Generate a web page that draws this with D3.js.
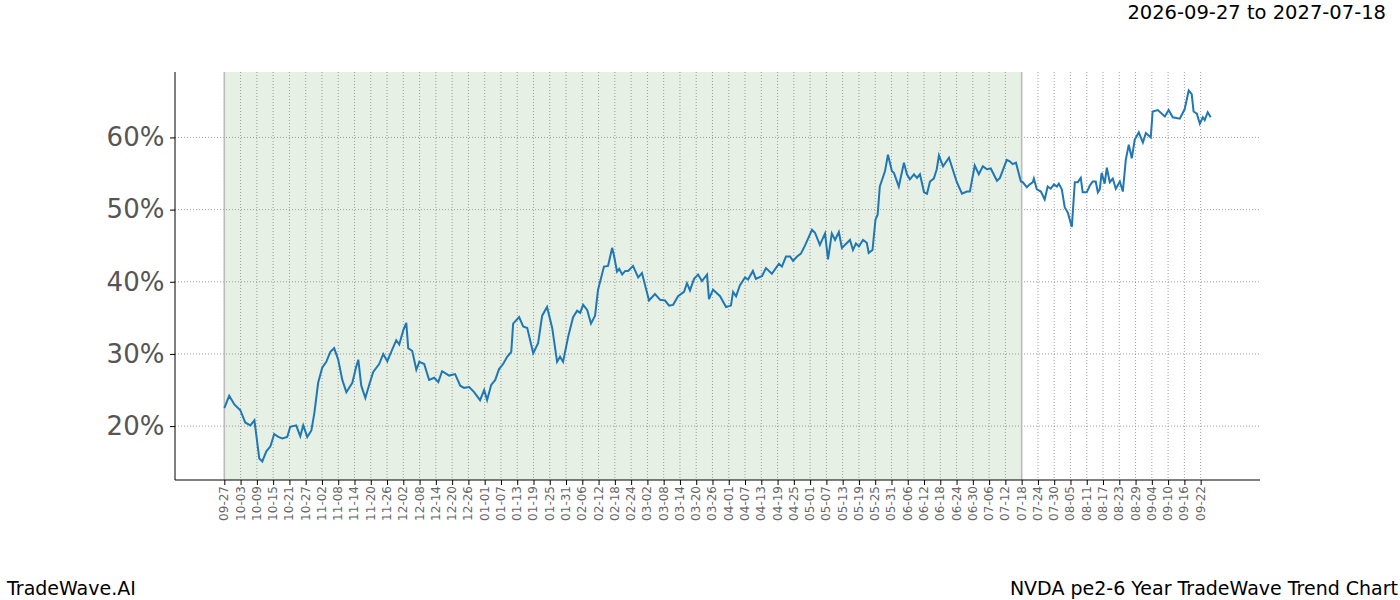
<!DOCTYPE html>
<html><head><meta charset="utf-8">
<script src="https://cdn.jsdelivr.net/npm/d3@7"></script>
<style>body{margin:0;background:#fff;font-family:"DejaVu Sans",sans-serif;}</style>
</head><body><svg id="c" width="1400" height="600"></svg>
<script>
const startDate = "2026-09-27";
const shadeEnd = "2027-07-18";
const title = "2026-09-27 to 2027-07-18";
const dayOffsets = [0,1.8,3.7,5.9,7.7,9.6,11.1,12.9,14.0,15.5,17.0,18.4,19.9,21.4,23.2,24.3,26.5,28.0,29.1,30.6,32.1,33.2,34.6,36.1,37.6,39.1,40.5,42.0,43.5,45.0,47.2,48.6,49.4,50.5,52.0,53.4,54.9,57.1,58.6,60.1,61.9,63.4,64.5,66.0,67.1,67.8,69.3,70.8,71.9,73.7,75.5,77.4,78.9,80.3,82.9,85.1,87.0,88.4,90.3,92.1,94.3,95.8,96.9,98.4,99.9,101.3,102.8,104.3,105.8,106.5,108.7,110.2,111.7,113.9,115.7,117.2,119.0,120.9,122.7,123.8,124.9,126.8,128.6,130.1,131.2,132.3,133.8,135.2,136.7,137.8,140.0,141.5,143.0,143.7,144.8,145.6,146.7,147.8,148.9,150.7,152.6,154.0,156.6,158.8,160.7,162.5,164.0,165.5,167.3,169.5,170.6,171.7,173.2,174.7,176.1,178.0,178.7,180.2,182.8,185.0,186.8,187.6,188.7,190.1,192.0,193.1,194.9,196.0,198.3,199.7,201.9,204.5,205.6,207.1,208.6,209.7,211.2,212.6,214.1,216.7,217.8,219.6,221.5,222.6,224.0,225.2,226.6,227.7,230.7,231.8,232.9,234.0,235.5,236.9,237.6,239.0,240.1,240.9,241.7,243.6,244.7,246.2,246.9,248.7,250.6,251.7,252.8,254.3,255.4,256.5,258.0,259.1,260.2,261.6,262.7,263.5,265.0,267.2,270.1,272.0,273.8,274.9,276.7,278.2,279.7,281.2,282.6,284.9,286.0,288.5,289.6,290.7,291.9,293.7,294.4,295.9,297.0,298.1,298.5,299.6,301.1,302.5,303.6,304.7,305.9,307.0,307.7,308.8,309.9,311.0,312.5,313.6,314.7,315.8,316.5,318.0,319.1,320.2,321.3,322.1,322.8,323.5,324.6,325.4,326.5,327.6,328.7,330.2,331.3,332.4,333.5,334.6,335.7,337.2,338.7,339.8,341.6,342.3,344.2,346.8,348.2,349.7,352.3,354.1,355.6,356.7,357.4,358.6,359.7,360.8,361.5,362.6,363.7];
const values = [22.5,24.2,23.0,22.2,20.5,20.1,20.8,15.5,15.1,16.5,17.2,18.9,18.5,18.3,18.5,19.9,20.1,18.6,20.1,18.5,19.4,21.8,26.0,28.1,28.9,30.3,30.8,29.2,26.4,24.7,26.0,28.2,29.2,25.6,23.9,25.7,27.5,28.6,30.0,29.0,30.6,31.9,31.3,33.3,34.3,30.8,30.4,27.8,28.9,28.6,26.4,26.7,26.1,27.6,27.0,27.2,25.6,25.3,25.4,24.7,23.6,25.0,23.6,25.7,26.4,27.9,28.6,29.6,30.3,34.2,35.1,33.8,33.6,30.1,31.5,35.3,36.5,33.6,28.9,29.6,28.9,32.4,35.1,36.0,35.7,36.8,36.1,34.2,35.3,38.9,42.1,42.2,44.7,43.6,41.4,41.8,41.0,41.5,41.5,42.2,40.6,41.2,37.4,38.3,37.5,37.4,36.7,36.8,38.0,38.6,39.8,38.8,40.4,41.0,40.1,41.0,37.6,38.9,38.0,36.5,36.7,38.6,38.0,39.5,40.6,40.3,41.5,40.4,40.8,41.9,41.1,42.5,42.1,43.5,43.5,42.9,43.5,43.9,45.0,47.2,46.8,45.1,46.7,43.1,46.7,45.8,46.9,44.7,45.8,44.4,45.3,44.9,45.8,45.4,44.0,44.4,48.6,49.3,53.2,55.3,57.6,55.3,55.1,53.2,56.5,54.9,54.2,54.9,54.4,54.9,52.4,52.2,53.9,54.3,55.6,57.5,56.0,57.2,53.8,52.2,52.5,52.5,56.1,54.9,56.0,55.6,55.7,54.0,54.4,56.9,56.7,56.3,56.5,53.9,53.8,53.1,53.5,53.8,54.3,52.8,52.5,51.4,53.2,52.9,53.5,53.2,53.6,52.8,50.3,49.6,47.6,53.8,53.8,54.4,52.4,52.4,53.3,53.9,53.9,52.4,52.8,55.1,53.6,55.8,53.8,54.3,52.9,53.9,52.5,56.9,59.0,57.1,59.7,60.7,59.3,60.6,60.0,63.6,63.8,62.9,63.8,62.8,62.6,63.9,66.5,66.0,63.6,63.3,61.9,62.8,62.4,63.5,62.8];
const yTicks = [20,30,40,50,60];
const tickCount = 61; const tickStepDays = 6;

const svg = d3.select("#c");
const L=175,R=1260,T=72,B=480;
const day = 864e5;
const t0 = d3.timeParse("%Y-%m-%d")(startDate);
const toDate = d => new Date(t0.getTime()+d*day);
const span = d3.max(dayOffsets)-d3.min(dayOffsets);
const x = d3.scaleTime().domain([toDate(-0.05*span),toDate(d3.max(dayOffsets)+0.05*span)]).range([L,R]);
const vr = d3.max(values)-d3.min(values);
const y = d3.scaleLinear().domain([d3.min(values)-0.05*vr,d3.max(values)+0.05*vr]).range([B,T]);
const tickDates = d3.range(tickCount).map(i=>d3.timeDay.offset(t0,i*tickStepDays));
const sEnd = d3.timeParse("%Y-%m-%d")(shadeEnd);

svg.append("rect").attr("x",x(t0)).attr("y",T).attr("width",x(sEnd)-x(t0)).attr("height",B-T).attr("fill","#e6f0e4");
svg.append("g").selectAll("line").data(tickDates).join("line")
 .attr("x1",d=>x(d)).attr("x2",d=>x(d)).attr("y1",T).attr("y2",B)
 .attr("stroke","#888").attr("stroke-width",0.8).attr("stroke-dasharray","1,2");
svg.append("g").selectAll("line").data(yTicks).join("line")
 .attr("x1",L).attr("x2",R).attr("y1",d=>y(d)).attr("y2",d=>y(d))
 .attr("stroke","#888").attr("stroke-width",0.8).attr("stroke-dasharray","1,2");
[t0,sEnd].forEach(d=>svg.append("line").attr("x1",x(d)).attr("x2",x(d)).attr("y1",T).attr("y2",B).attr("stroke","#bbb").attr("stroke-width",1.5));

const line = d3.line().x((d,i)=>x(toDate(dayOffsets[i]))).y(d=>y(d));
svg.append("path").datum(values).attr("d",line).attr("fill","none").attr("stroke","#1f77b4").attr("stroke-width",2);

const gx = svg.append("g").attr("transform",`translate(0,${B})`)
 .call(d3.axisBottom(x).tickValues(tickDates).tickFormat(d3.timeFormat("%m-%d")).tickSize(5).tickSizeOuter(0));
gx.select(".domain").remove();
gx.selectAll("text").attr("transform","rotate(-90)").attr("text-anchor","end").attr("dx","-0.5em").attr("dy","-0.38em")
 .attr("fill","#666").style("font-size","12px").style("font-family","DejaVu Sans");
gx.selectAll("line").attr("stroke","#000");
const gy = svg.append("g").attr("transform",`translate(${L},0)`)
 .call(d3.axisLeft(y).tickValues(yTicks).tickFormat(d=>d+"%").tickSize(5).tickSizeOuter(0));
gy.select(".domain").remove();
gy.selectAll("text").attr("fill","#555").style("font-size","26px").style("font-family","DejaVu Sans").attr("dx","-0.1em");
svg.append("line").attr("x1",L).attr("x2",L).attr("y1",T).attr("y2",B).attr("stroke","#000");
svg.append("line").attr("x1",L).attr("x2",R).attr("y1",B).attr("y2",B).attr("stroke","#000");

svg.append("text").attr("x",1386).attr("y",19).attr("text-anchor","end").style("font-size","19.5px").text(title);
svg.append("text").attr("x",7).attr("y",595).style("font-size","19px").text("TradeWave.AI");
svg.append("text").attr("x",1398).attr("y",595).attr("text-anchor","end").style("font-size","19px").text("NVDA pe2-6 Year TradeWave Trend Chart");
</script></body></html>
